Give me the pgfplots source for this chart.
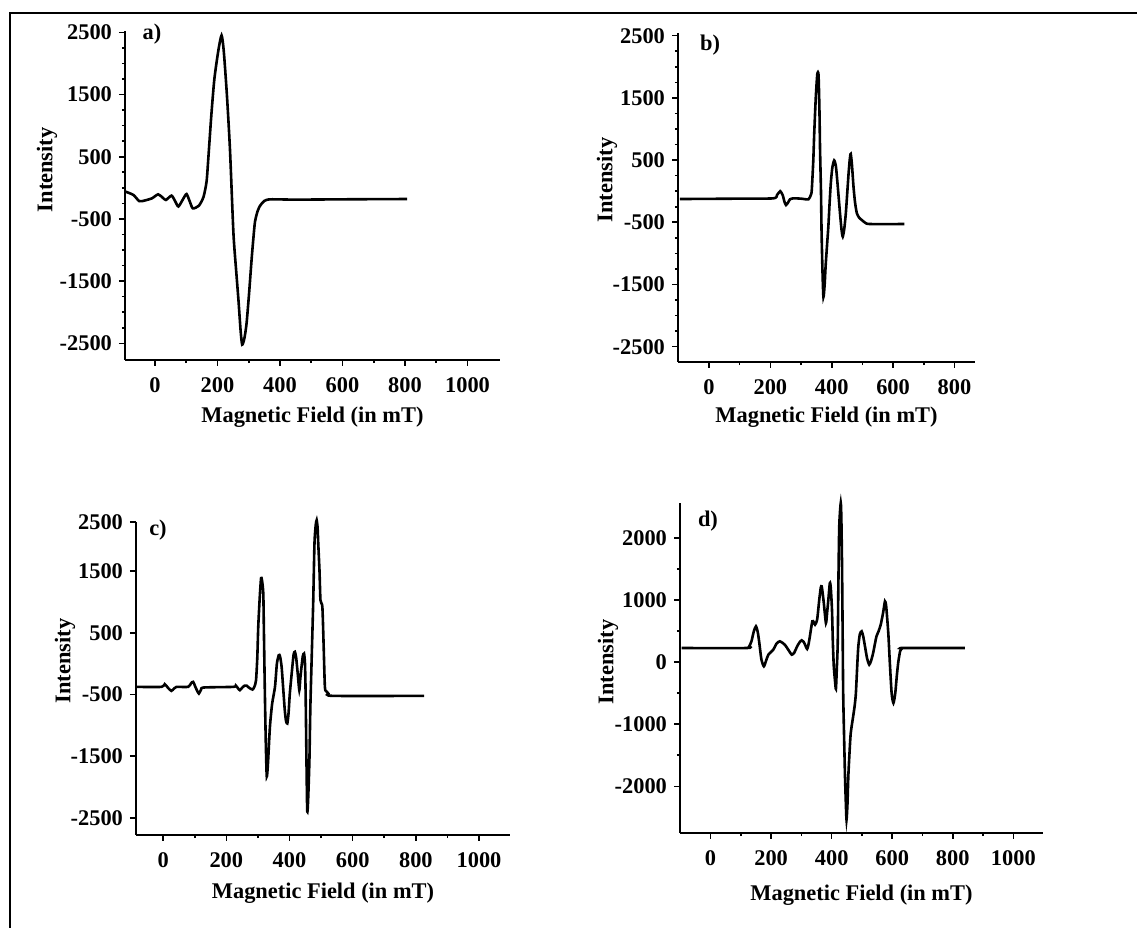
\documentclass[border=0pt]{standalone}
\usepackage{pgfplots}
\pgfplotsset{compat=1.18}
\usepackage{fontspec}
\setmainfont{Liberation Serif}

\pgfplotsset{
  eprstyle/.style={
    scale only axis,
    axis x line*=bottom,
    axis y line*=left,
    axis line style={-, line width=0.9pt},
    tick align=outside,
    major tick length=3pt,
    minor tick length=1.6pt,
    every tick/.style={black, line width=0.8pt},
    minor x tick num=1,
    tick label style={font=\fontsize{11.2}{13}\selectfont\bfseries},
    xticklabel style={yshift=-2.5pt},
    label style={font=\fontsize{11.2}{13}\selectfont\bfseries},
    xlabel={Magnetic Field (in mT)},
    ylabel={Intensity},
    clip=false,
  },
  curve/.style={black, line width=1.3pt, smooth, tension=0.4, no markers},
}

\begin{document}
\begin{tikzpicture}[font=\fontsize{11.2}{13}\selectfont\bfseries]
\path[use as bounding box] (0pt,0pt) rectangle (568.5pt,464pt);
% figure frame (top and left edges)
\draw[line width=1pt] (568.5pt,457.5pt) -- (5pt,457.5pt) -- (5pt,0pt);

% ---------------- a) ----------------
\begin{axis}[eprstyle,
  at={(62.5pt,284pt)}, anchor=south west,
  width=187.5pt, height=164.5pt,
  xmin=-96, xmax=1104, ymin=-2768, ymax=2521,
  xtick={0,200,400,600,800,1000},
  xticklabels={0,200,400,600,800,1000},
  ytick={-2500,-1500,-500,500,1500,2500},
  yticklabels={-2500,-1500,-500,500,1500,2500},
  minor y tick num=3,
  xlabel style={at={(axis description cs:0.5,0)}, anchor=center, yshift=-28.5pt},
  ylabel style={at={(axis description cs:-0.208,0.578)}, anchor=center},
]
\addplot[curve] coordinates {
(-95,-60) (-69,-115) (-50,-215) (-30,-200) (-10,-170) (10,-105) (25,-160) (35,-195)
(53,-126) (65,-220) (75,-300) (90,-180) (101,-100) (112,-230) (121,-330) (140,-290)
(155,-150) (165,100) (171,500) (180,1150) (190,1750) (203,2216) (213,2450) (220,2200)
(230,1500) (240,608) (251,-731) (260,-1350) (267,-1800) (274,-2300) (279,-2520)
(286,-2420) (293,-2180) (301,-1700) (309,-1160) (315,-800) (320,-545) (328,-380)
(336,-290) (350,-210) (370,-185) (450,-190) (600,-185) (807,-180)
};
\end{axis}

% ---------------- b) ----------------
\begin{axis}[eprstyle,
  at={(339pt,283pt)}, anchor=south west,
  width=148.5pt, height=164.5pt,
  xmin=-101, xmax=867, ymin=-2746, ymax=2543,
  xtick={0,200,400,600,800},
  xticklabels={0,200,400,600,800},
  ytick={-2500,-1500,-500,500,1500,2500},
  yticklabels={-2500,-1500,-500,500,1500,2500},
  minor y tick num=3,
  xlabel style={at={(axis description cs:0.5,0)}, anchor=center, yshift=-27.5pt},
  ylabel style={at={(axis description cs:-0.239,0.553)}, anchor=center},
]
\addplot[curve] coordinates {
(-95,-126) (100,-120) (210,-115) (222,-60) (232,0) (240,-60) (246,-170) (251,-222)
(258,-180) (264,-131) (275,-115) (300,-120) (324,-131) (332,-60) (335,19) (340,500)
(343,930) (348,1500) (353,1880) (357,1868) (360,1300) (362,662) (365,0) (367,-678)
(370,-1300) (373,-1700) (377,-1500) (380,-1214) (385,-850) (389,-571) (393,-200)
(397,126) (402,380) (408,495) (413,420) (416,287) (421,0) (427,-356) (432,-620)
(436,-730) (441,-600) (446,-356) (451,0) (455,287) (459,520) (462,600) (466,420)
(471,72) (476,-180) (482,-356) (490,-430) (498,-464) (510,-510) (525,-528) (637,-528)
};
\end{axis}

% ---------------- c) ----------------
\begin{axis}[eprstyle,
  at={(68pt,46.5pt)}, anchor=south west,
  width=187pt, height=156.5pt,
  xmin=-86, xmax=1098, ymin=-2780, ymax=2300,
  xtick={0,200,400,600,800,1000},
  xticklabels={0,200,400,600,800,1000},
  ytick={-2500,-1500,-500,500,1500,2300},
  yticklabels={-2500,-1500,-500,500,1500,2500},
  minor y tick num=3,
  xlabel style={at={(axis description cs:0.5,0)}, anchor=center, yshift=-29pt},
  ylabel style={at={(axis description cs:-0.19,0.556)}, anchor=center},
]
\addplot[curve] coordinates {
(-85,-376) (-5,-376) (5,-332) (15,-390) (26,-441) (35,-400) (42,-376) (79,-376)
(88,-320) (95,-295) (104,-400) (113,-484) (120,-420) (129,-386) (222,-376) (230,-355)
(237,-400) (243,-430) (250,-390) (258,-355) (264,-355) (272,-390) (283,-419)
(289,-370) (294,-268) (298,100) (301,597) (306,1100) (310,1390) (313,1350)
(317,1138) (319,500) (322,-484) (325,-1300) (328,-1830) (332,-1600) (338,-1024)
(345,-650) (354,-376) (360,0) (366,138) (370,120) (375,-51) (380,-400) (385,-754)
(389,-930) (393,-970) (397,-800) (401,-484) (408,-100) (413,150) (417,192) (421,100)
(426,-159) (431,-430) (434,-250) (438,-51) (442,120) (446,165) (449,0) (451,-484)
(453,-1300) (456,-2376) (459,-2200) (463,-1565) (466,-700) (470,57) (475,1000)
(479,1949) (483,2250) (486,2330) (489,2200) (491,1949) (495,1500) (498,1030)
(504,922) (508,300) (512,-376) (517,-450) (523,-484) (539,-522) (826,-522)
};
\end{axis}

% ---------------- d) ----------------
\begin{axis}[eprstyle,
  at={(340pt,47.5pt)}, anchor=south west,
  width=181.5pt, height=165pt,
  xmin=-101, xmax=1098, ymin=-2752, ymax=2564,
  xtick={0,200,400,600,800,1000},
  xticklabels={0,200,400,600,800,1000},
  ytick={-2000,-1000,0,1000,2000},
  yticklabels={-2000,-1000,0,1000,2000},
  minor y tick num=1,
  xlabel style={at={(axis description cs:0.5,0)}, anchor=center, yshift=-31pt},
  ylabel style={at={(axis description cs:-0.198,0.518)}, anchor=center},
]
\addplot[curve] coordinates {
(-96,228) (119,228) (128,260) (135,336) (143,500) (150,577) (156,480) (161,309)
(168,40) (176,-67) (183,20) (191,121) (207,201) (218,300) (229,336) (245,282)
(258,190) (268,121) (276,150) (286,255) (294,320) (301,352) (307,330) (312,282)
(319,212) (324,300) (328,416) (336,658) (341,640) (345,604) (352,685) (359,1007)
(364,1200) (367,1221) (370,1120) (374,953) (381,631) (385,800) (389,1007) (394,1275)
(397,1200) (401,846) (404,300) (407,-67) (411,-300) (414,-430) (417,-100) (420,309)
(422,1200) (425,2188) (430,2564) (432,2300) (434,1651) (436,600) (438,-497)
(441,-1200) (444,-1839) (447,-2300) (449,-2537) (452,-2300) (455,-1839) (459,-1450)
(463,-1141) (471,-872) (476,-700) (480,-497) (485,0) (488,255) (493,450) (499,497)
(504,420) (510,255) (517,60) (524,-40) (530,20) (537,148) (543,300) (548,416)
(555,500) (562,604) (570,800) (576,980) (580,900) (587,470) (592,0) (598,-497)
(604,-658) (610,-500) (615,-228) (620,0) (626,174) (632,220) (637,228) (840,228)
};
\end{axis}

% panel letters
\node at (76pt,447pt) {a)};
\node at (355pt,441.5pt) {b)};
\node at (79pt,199pt) {c)};
\node at (354pt,203.5pt) {d)};
\end{tikzpicture}
\end{document}
